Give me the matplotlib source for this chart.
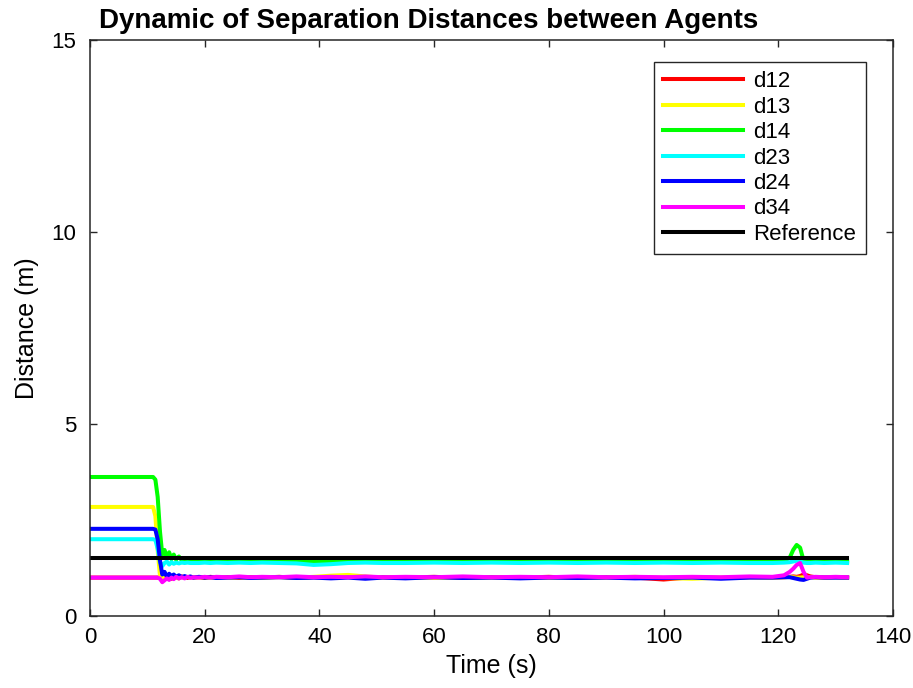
import numpy as np
import matplotlib
matplotlib.use("Agg")
import matplotlib.pyplot as plt

plt.rcParams['font.family'] = ['Liberation Sans', 'DejaVu Sans']

#____________________data____________________
t = [0, 11.0, 11.4, 11.8, 12.2, 12.6, 13.0, 13.4, 13.8, 14.2, 14.6, 15.0, 15.5, 16.0, 16.5, 17.0, 17.5, 18.0,
     19, 20, 21, 22, 24, 26, 28, 30, 33, 36, 39, 42, 45, 48, 51,
     55, 60, 65, 70, 75, 80, 85, 90, 95, 100, 105, 110, 115,
     119, 121, 122, 122.6, 123.2, 123.8, 124.4, 125.0, 125.6, 126.5, 128, 130, 132]

d12 = [1.00, 1.00, 1.00, 1.00, 0.98, 0.93, 0.97, 1.04, 1.01, 0.97, 1.03, 1.00, 0.98, 1.03, 1.00, 0.99, 1.02, 1.00,
       1.01, 0.99, 1.02, 1.00, 1.01, 0.99, 1.01, 1.00, 1.02, 0.99, 1.01, 1.00, 1.02, 0.99, 1.01,
       1.00, 1.02, 0.99, 1.01, 1.00, 1.02, 0.99, 1.01, 1.00, 0.95, 1.01, 0.99, 1.01,
       1.00, 1.01, 1.02, 1.03, 1.02, 1.04, 1.08, 1.06, 1.03, 1.01, 1.00, 1.01, 1.00]

d13 = [2.84, 2.84, 2.60, 1.70, 1.05, 0.96, 1.03, 1.05, 0.98, 1.02, 1.04, 0.99, 1.02, 1.01, 0.99, 1.02, 1.00, 1.01,
       1.00, 1.01, 0.99, 1.01, 1.00, 1.01, 0.99, 1.00, 1.01, 1.00, 1.02, 1.05, 1.07, 1.03, 1.00,
       1.01, 0.99, 1.01, 1.00, 1.01, 0.99, 1.01, 1.00, 1.02, 0.99, 0.97, 1.00, 1.01,
       1.00, 1.01, 1.02, 1.01, 1.00, 1.00, 1.01, 1.00, 1.01, 1.00, 1.00, 1.01, 1.00]

d14 = [3.62, 3.62, 3.55, 3.10, 2.20, 1.60, 1.72, 1.50, 1.66, 1.48, 1.60, 1.47, 1.55, 1.45, 1.50, 1.44, 1.46, 1.43,
       1.44, 1.42, 1.43, 1.41, 1.42, 1.41, 1.42, 1.41, 1.43, 1.42, 1.41, 1.42, 1.44, 1.42, 1.41,
       1.42, 1.41, 1.43, 1.42, 1.41, 1.42, 1.43, 1.41, 1.42, 1.41, 1.43, 1.42, 1.42,
       1.42, 1.43, 1.52, 1.72, 1.85, 1.78, 1.45, 1.41, 1.41, 1.42, 1.41, 1.42, 1.41]

d23 = [2.00, 2.00, 1.98, 1.75, 1.40, 1.30, 1.38, 1.42, 1.34, 1.40, 1.36, 1.39, 1.37, 1.39, 1.38, 1.39, 1.38, 1.38,
       1.38, 1.39, 1.38, 1.39, 1.38, 1.39, 1.38, 1.39, 1.38, 1.37, 1.33, 1.35, 1.38, 1.39, 1.38,
       1.38, 1.39, 1.38, 1.39, 1.38, 1.39, 1.38, 1.39, 1.38, 1.39, 1.38, 1.39, 1.38,
       1.38, 1.39, 1.40, 1.42, 1.44, 1.42, 1.39, 1.38, 1.38, 1.39, 1.38, 1.39, 1.38]

d24 = [2.27, 2.27, 2.25, 2.00, 1.45, 1.08, 1.15, 1.02, 1.10, 1.04, 1.08, 1.02, 1.06, 1.01, 1.04, 1.01, 1.03, 1.00,
       1.02, 1.00, 1.01, 0.99, 1.00, 1.01, 0.99, 1.00, 1.01, 0.99, 1.00, 0.98, 1.00, 0.97, 1.00,
       0.98, 1.01, 0.99, 1.00, 0.98, 1.00, 0.99, 1.00, 0.98, 0.99, 1.00, 0.97, 1.00,
       1.00, 1.01, 1.01, 0.99, 0.97, 0.95, 0.94, 0.97, 1.00, 1.01, 1.00, 1.00, 1.00]

d34 = [1.00, 1.00, 1.00, 1.00, 0.97, 0.88, 0.93, 0.98, 0.94, 1.00, 0.96, 1.02, 0.98, 1.01, 0.98, 1.02, 0.99, 1.01,
       1.00, 1.02, 1.00, 1.02, 1.01, 1.03, 1.01, 1.02, 1.01, 1.03, 1.01, 1.02, 1.01, 1.03, 1.01,
       1.02, 1.01, 1.03, 1.01, 1.02, 1.01, 1.03, 1.01, 1.02, 1.01, 1.02, 1.01, 1.03,
       1.02, 1.06, 1.15, 1.23, 1.33, 1.38, 1.15, 1.00, 1.01, 1.02, 1.01, 1.02, 1.01]

t_ref = [0, 132]
ref = [1.5, 1.5]

labels = ['d12', 'd13', 'd14', 'd23', 'd24', 'd34']
colors = ['#ff0000', '#ffff00', '#00ff00', '#00ffff', '#0000ff', '#ff00ff']

#____________________plot____________________
fig = plt.figure(figsize=(9.13, 6.88), dpi=100)
ax = fig.add_axes([90/913, 72/688, 803/913, 576/688])

for y, c, lab in zip([d12, d13, d14, d23, d24, d34], colors, labels):
    ax.plot(t, y, color=c, lw=2.9, label=lab)
ax.plot(t_ref, ref, color='k', lw=2.9, label='Reference')

ax.set_xlim(0, 140)
ax.set_ylim(0, 15)
ax.set_xticks(np.arange(0, 141, 20))
ax.set_yticks([0, 5, 10, 15])
ax.tick_params(direction='in', top=True, right=True, length=5, width=1,
               labelsize=16, color='#262626')
ax.tick_params(axis='x', pad=8)
ax.tick_params(axis='y', pad=10)
for s in ax.spines.values():
    s.set_color('#262626')
    s.set_linewidth(1.1)

ax.set_xlabel('Time (s)', fontsize=18, labelpad=4)
ax.set_ylabel('Distance (m)', fontsize=18, labelpad=9)
fig.text(0.469, 0.970, 'Dynamic of Separation Distances between Agents',
         fontsize=20, fontweight='bold', ha='center', va='center')

leg = ax.legend(loc='upper right', bbox_to_anchor=(0.966, 0.962), borderaxespad=0,
                fontsize=16, handlelength=3.6, handletextpad=0.45, labelspacing=0.2,
                borderpad=0.42, fancybox=False, framealpha=1, edgecolor='#262626')
leg.get_frame().set_linewidth(1.0)

fig.savefig('out.png', dpi=100)
